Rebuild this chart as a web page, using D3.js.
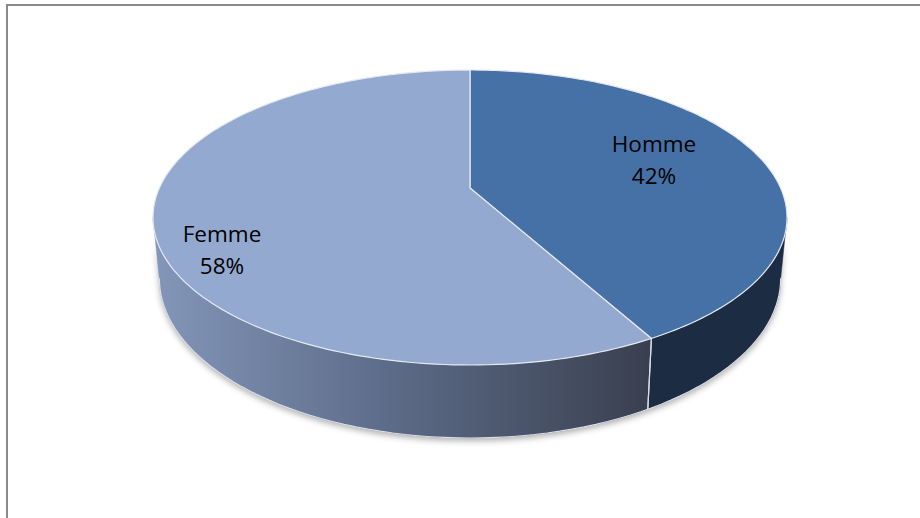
<!DOCTYPE html>
<html><head><meta charset="utf-8">
<script src="https://cdn.jsdelivr.net/npm/d3@7"></script>
<style>html,body{margin:0;padding:0;background:#fff;}svg{display:block;}</style>
</head><body>
<svg id="chart" width="920" height="518"></svg>
<script>
// ---- data ----
const categories = ["Homme", "Femme"];
const values = [42, 58];
const percentLabels = ["42%", "58%"];

// ---- styles / layout ----
const topColors = ["#4671a7", "#93a9cf"];
const sideColors = ["#1b2c43", "url(#femmeSide)"];
const labelAnchors = [[654, 152], [222, 242]];
const cx = 470, cy = 188, A = 310.6, B = 141.6, P = 0.2, H = 58.4, K = 0.02;

const svg = d3.select("#chart");
const defs = svg.append("defs");
const g1 = defs.append("linearGradient").attr("id", "femmeSide")
  .attr("gradientUnits", "userSpaceOnUse").attr("x1", 155).attr("x2", 652).attr("y1", 0).attr("y2", 0);
g1.append("stop").attr("offset", 0).attr("stop-color", "#8396b9");
g1.append("stop").attr("offset", 0.45).attr("stop-color", "#5e6d8a");
g1.append("stop").attr("offset", 1).attr("stop-color", "#393f4f");
const blur = defs.append("filter").attr("id", "shadowBlur").attr("x", "-20%").attr("y", "-20%").attr("width", "140%").attr("height", "140%");
blur.append("feGaussianBlur").attr("stdDeviation", 3);

// border
svg.append("rect").attr("x", 7).attr("y", 5).attr("width", 940).attr("height", 540)
  .attr("fill", "none").attr("stroke", "#8a8a8a").attr("stroke-width", 2);

// perspective projection of a point on the pie (angle clockwise from top, radius frac, level 0 top / 1 bottom)
function proj(theta, r = 1, level = 0) {
  const X = r * Math.sin(theta), Z = r * Math.cos(theta);
  const s = 1 / (1 + P * Z);
  return [cx + A * X * s * (1 - K * level), cy - B * Z * s + level * H * s];
}
function arcPts(a0, a1, level, n = 80) {
  const pts = [];
  for (let i = 0; i <= n; i++) pts.push(proj(a0 + (a1 - a0) * i / n, 1, level));
  return pts;
}
const line = d3.line();

const pie = d3.pie().sort(null).startAngle(0).endAngle(2 * Math.PI).value(d => d);
const arcs = pie(values);

const lo = Math.acos(-P), hi = 2 * Math.PI - Math.acos(-P);

// shadow under the pie
const shadowPts = arcPts(lo, hi, 1).map(([x, y]) => [x, y + 3]);
svg.append("path").attr("d", line(shadowPts.concat(arcPts(hi, lo, 0.2))) + "Z")
  .attr("fill", "#7a7a7a").attr("opacity", 0.6).attr("filter", "url(#shadowBlur)");

// side walls
arcs.forEach((d, i) => {
  const s = Math.max(d.startAngle, lo), e = Math.min(d.endAngle, hi);
  if (e <= s) return;
  const pts = arcPts(s, e, 0).concat(arcPts(e, s, 1));
  svg.append("path").attr("d", line(pts) + "Z").attr("fill", sideColors[i]).attr("stroke", sideColors[i]).attr("stroke-width", 0.5);
});
// bottom highlight edge
svg.append("path").attr("d", line(arcPts(lo, hi, 1))).attr("fill", "none")
  .attr("stroke", "#d8dde6").attr("stroke-width", 1.2);
// wall divider lines
arcs.forEach(d => {
  [d.startAngle, d.endAngle].forEach(a => {
    if (a > lo && a < hi) {
      svg.append("path").attr("d", line([proj(a, 1, 0), proj(a, 1, 1)]))
        .attr("stroke", "#d6dce6").attr("stroke-width", 1.2);
    }
  });
});

// top faces
arcs.forEach((d, i) => {
  const pts = [proj(0, 0)].concat(arcPts(d.startAngle, d.endAngle, 0, 160));
  svg.append("path").attr("d", line(pts) + "Z").attr("fill", topColors[i])
    .attr("stroke", "#e4e9f2").attr("stroke-width", 1.2).attr("stroke-linejoin", "round");
});

// labels
arcs.forEach((d, i) => {
  const [x, y] = labelAnchors[i];
  const t = svg.append("text").attr("text-anchor", "middle")
    .attr("font-family", "'Open Sans', sans-serif").attr("font-size", 22.5).attr("fill", "#000");
  t.append("tspan").attr("x", x).attr("y", y).text(categories[i]);
  t.append("tspan").attr("x", x).attr("y", y + 32).text(percentLabels[i]);
});
</script>
</body></html>
